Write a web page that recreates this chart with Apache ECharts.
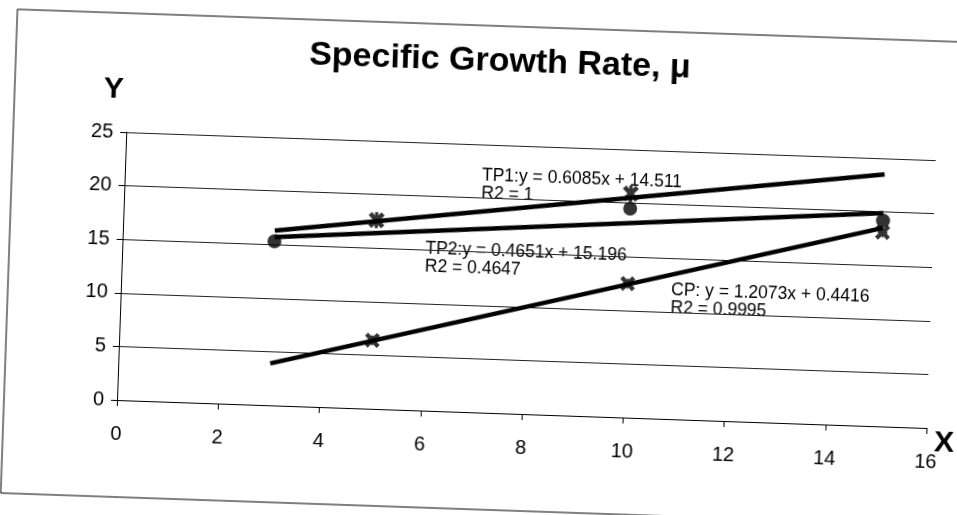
<!DOCTYPE html>
<html>
<head>
<meta charset="utf-8">
<script src="https://cdn.jsdelivr.net/npm/echarts@6/dist/echarts.min.js"></script>
<style>
  html, body { margin: 0; padding: 0; background: #fff; overflow: hidden; }
  #wrap { position: absolute; left: 0; top: 0; width: 957px; height: 515px;
          transform: rotate(1.98deg); transform-origin: 117px 400px; }
  #chart { width: 957px; height: 515px; }
</style>
</head>
<body>
<div id="wrap"><div id="chart"></div></div>
<script>
// ---- data ----
const xTicks = [0, 2, 4, 6, 8, 10, 12, 14, 16];
const yTicks = [0, 5, 10, 15, 20, 25];

const tp1X = [5, 10];
const tp1Y = [17.6, 20.9];

const tp2X = [3, 10, 15];
const tp2Y = [15.3, 19.5, 19.2];

const cpX = [5, 10, 15];
const cpY = [6.4, 12.5, 18.1];

const trendX = [3, 15];
const tp1Trend = [16.3, 23.5];
const tp2Trend = [15.7, 19.9];
const cpTrend = [3.9, 18.5];

const eqTP1 = ['TP1:y = 0.6085x + 14.511', 'R2 = 1'];
const eqTP2 = ['TP2:y = 0.4651x + 15.196', 'R2 = 0.4647'];
const eqCP = ['CP: y = 1.2073x + 0.4416', 'R2 = 0.9995'];

// ---- build ----
const pair = (xs, ys) => xs.map((x, i) => [x, ys[i]]);
const FONT = '"Liberation Sans", Arial, sans-serif';
const starPath = 'path://M0,2 L2,0 L5,3 L8,0 L10,2 L7,5 L10,8 L8,10 L5,7 L2,10 L0,8 L3,5 Z M4,0 L6,0 L6,10 L4,10 Z';
const xPath = 'path://M0,2 L2,0 L5,3 L8,0 L10,2 L7,5 L10,8 L8,10 L5,7 L2,10 L0,8 L3,5 Z M5,1.5 L8.5,5 L5,8.5 L1.5,5 Z';

const chart = echarts.init(document.getElementById('chart'));
const trendStyle = { color: '#000', width: 4.5 };
function eqText(x, y, lines) {
  return lines.map((t, i) => ({
    type: 'text', left: x, top: y + i * 18,
    style: { text: t, font: '17.5px ' + FONT, fill: '#000' }
  }));
}
chart.setOption({
  animation: false,
  backgroundColor: '#fff',
  title: {
    text: 'Specific Growth Rate, μ',
    left: 483, top: 27, textAlign: 'center',
    textStyle: { fontFamily: FONT, fontWeight: 'bold', fontSize: 34, color: '#000' }
  },
  grid: { left: 117, top: 132, width: 810, height: 268 },
  xAxis: {
    type: 'value', min: xTicks[0], max: xTicks[xTicks.length - 1], interval: 2,
    axisLine: { show: true, lineStyle: { color: '#000', width: 1 } },
    axisTick: { show: true, length: 6, lineStyle: { color: '#000' } },
    splitLine: { show: false },
    axisLabel: { margin: 24, color: '#000', fontFamily: FONT, fontSize: 20 }
  },
  yAxis: {
    type: 'value', min: yTicks[0], max: yTicks[yTicks.length - 1], interval: 5,
    axisLine: { show: true, lineStyle: { color: '#000', width: 1 } },
    axisTick: { show: true, length: 6, lineStyle: { color: '#000' } },
    splitLine: { show: true, lineStyle: { color: '#222', width: 1 } },
    axisLabel: { margin: 13, color: '#000', fontFamily: FONT, fontSize: 20 }
  },
  graphic: [
    { type: 'rect', shape: { x: 4, y: 13, width: 1000, height: 484 },
      style: { fill: 'none', stroke: '#000', lineWidth: 1 }, silent: true },
    { type: 'text', left: 93, top: 75,
      style: { text: 'Y', font: 'bold 30px ' + FONT, fill: '#000' } },
    { type: 'text', left: 935, top: 400,
      style: { text: 'X', font: 'bold 30px ' + FONT, fill: '#000' } },
    ...eqText(474, 154, eqTP1),
    ...eqText(420, 229, eqTP2),
    ...eqText(667, 262, eqCP)
  ],
  series: [
    { type: 'line', data: pair(trendX, tp1Trend), symbol: 'none', lineStyle: trendStyle, z: 3 },
    { type: 'line', data: pair(trendX, tp2Trend), symbol: 'none', lineStyle: trendStyle, z: 3 },
    { type: 'line', data: pair(trendX, cpTrend), symbol: 'none', lineStyle: trendStyle, z: 3 },
    { type: 'scatter', data: pair(tp1X, tp1Y), symbol: starPath, symbolSize: 16,
      itemStyle: { color: '#000' }, z: 4 },
    { type: 'scatter', data: pair(cpX, cpY), symbol: xPath, symbolSize: 15,
      itemStyle: { color: '#000' }, z: 4 },
    { type: 'scatter', data: pair(tp2X, tp2Y), symbol: 'circle', symbolSize: 14,
      itemStyle: { color: '#000' }, z: 5 }
  ]
});
</script>
</body>
</html>
